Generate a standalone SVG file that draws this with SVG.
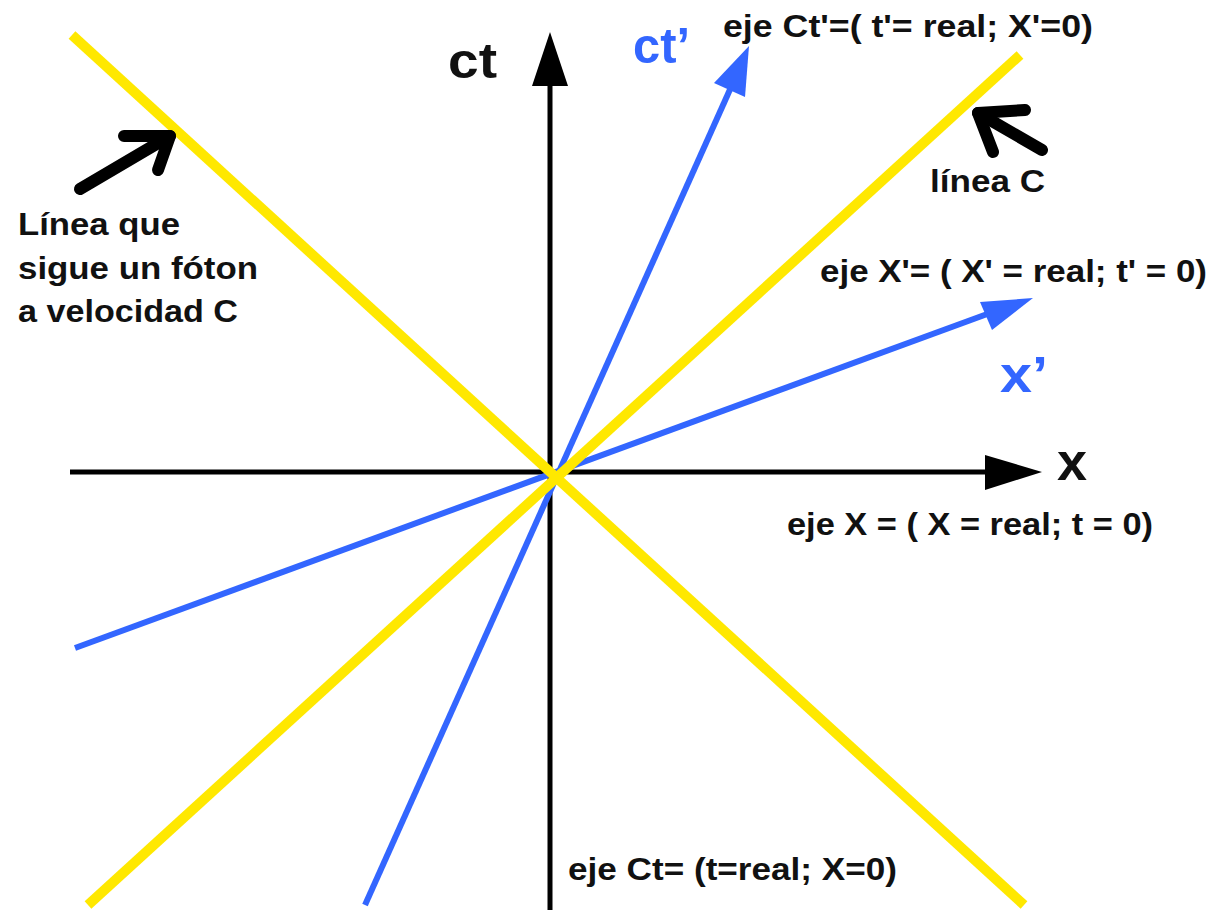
<svg xmlns="http://www.w3.org/2000/svg" width="1215" height="910" viewBox="0 0 1215 910">
<style>
.lbl{font-family:"Liberation Sans",Arial,sans-serif;font-weight:bold;font-size:31px;fill:#111}
.big{font-family:"Liberation Sans",Arial,sans-serif;font-weight:bold;font-size:50px}
.yel{stroke:#ffe800;stroke-width:10;fill:none;stroke-linecap:butt}
.blu{stroke:#3366ff;stroke-width:6;fill:none}
.axis{stroke:#000;stroke-width:5;fill:none}
.hand{stroke:#000;stroke-width:12;fill:none;stroke-linecap:round;stroke-linejoin:round}
</style>
<rect width="1215" height="910" fill="#fff"/>
<g id="connectors">
  <g id="axis-ct">
    <line class="axis" x1="550" y1="910" x2="550" y2="80"/>
    <polygon points="550,32 532,86 568,86" fill="#000"/>
  </g>
  <g id="axis-x">
    <line class="axis" x1="70" y1="472" x2="990" y2="472"/>
    <polygon points="1042,472 985,455 985,490" fill="#000"/>
  </g>
  <g id="axis-ctp">
    <line class="blu" x1="365" y1="905" x2="732" y2="85"/>
    <polygon points="749,46 745,97 714,83" fill="#3366ff"/>
  </g>
  <g id="axis-xp">
    <line class="blu" x1="75" y1="648" x2="990" y2="313"/>
    <polygon points="1033,298 992,330 980,302" fill="#3366ff"/>
  </g>
  <g id="light-lines">
    <line class="yel" x1="72" y1="35" x2="1024" y2="905"/>
    <line class="yel" x1="88" y1="905" x2="1020" y2="55"/>
  </g>
  <g id="pointer-left">
    <polyline class="hand" points="80,189 170,136"/>
    <polyline class="hand" points="124,136 170,136 158,170"/>
  </g>
  <g id="pointer-right">
    <polyline class="hand" points="1042,150 978,113"/>
    <polyline class="hand" points="1025,110 978,113 993,152"/>
  </g>
</g>
<g id="label-ct"><text class="big" x="448" y="78" fill="#111" textLength="49" lengthAdjust="spacingAndGlyphs">ct</text></g>
<g id="label-x"><text class="big" x="1057" y="480" fill="#111" style="font-size:54px">x</text></g>
<g id="label-ctp"><text class="big" x="633" y="63" fill="#3366ff" textLength="57" lengthAdjust="spacingAndGlyphs">ct’</text></g>
<g id="label-xp"><text class="big" x="1000" y="392" fill="#3366ff" textLength="48" lengthAdjust="spacingAndGlyphs">x’</text></g>
<g id="text-ctp-axis"><text class="lbl" x="723" y="37" textLength="370" lengthAdjust="spacingAndGlyphs">eje Ct'=( t'= real; X'=0)</text></g>
<g id="text-xp-axis"><text class="lbl" x="820" y="282" textLength="387" lengthAdjust="spacingAndGlyphs">eje X'= ( X' = real; t' = 0)</text></g>
<g id="text-x-axis"><text class="lbl" x="787" y="535" textLength="366" lengthAdjust="spacingAndGlyphs">eje X = ( X = real; t = 0)</text></g>
<g id="text-ct-axis"><text class="lbl" x="568" y="880" textLength="329" lengthAdjust="spacingAndGlyphs">eje Ct= (t=real; X=0)</text></g>
<g id="text-linea-c"><text class="lbl" x="930" y="192" textLength="115" lengthAdjust="spacingAndGlyphs">línea C</text></g>
<g id="text-foton">
  <text class="lbl" x="18" y="235" textLength="162" lengthAdjust="spacingAndGlyphs">Línea que</text>
  <text class="lbl" x="18" y="279" textLength="240" lengthAdjust="spacingAndGlyphs">sigue un fóton</text>
  <text class="lbl" x="18" y="322" textLength="220" lengthAdjust="spacingAndGlyphs">a velocidad C</text>
</g>
</svg>
